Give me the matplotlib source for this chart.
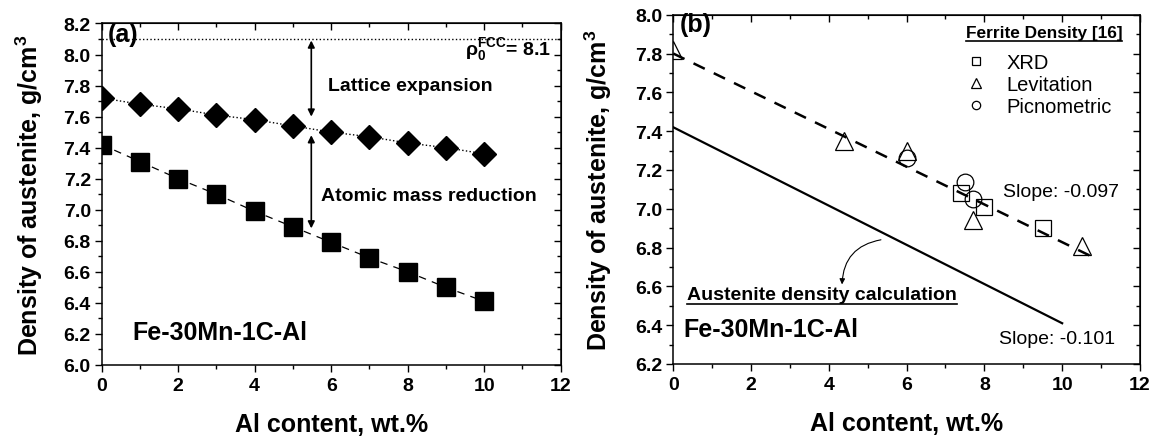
import matplotlib
matplotlib.use('Agg')
import matplotlib.pyplot as plt
from matplotlib.ticker import MultipleLocator
from matplotlib.lines import Line2D

plt.rcParams['font.family'] = ['Liberation Sans', 'DejaVu Sans']
plt.rcParams['font.weight'] = 'bold'
plt.rcParams['axes.labelweight'] = 'bold'
plt.rcParams['mathtext.fontset'] = 'custom'
plt.rcParams['mathtext.rm'] = 'Liberation Sans'
plt.rcParams['mathtext.it'] = 'Liberation Sans:italic'
plt.rcParams['mathtext.bf'] = 'Liberation Sans:bold'

# ---- panel (a) data
al = [0, 1, 2, 3, 4, 5, 6, 7, 8, 9, 10]
rho_lattice = [7.72, 7.68, 7.65, 7.61, 7.58, 7.54, 7.50, 7.47, 7.43, 7.40, 7.36]
rho_mass = [7.42, 7.31, 7.20, 7.10, 6.99, 6.89, 6.79, 6.69, 6.60, 6.50, 6.41]
rho0_fcc = 8.1

# ---- panel (b) data
calc_x = [0, 10]
calc_y = [7.42, 6.41]
fit_x = [0, 10.8]
fit_y = [7.80, 6.75]
xrd_x = [7.4, 8.0, 9.5]
xrd_y = [7.08, 7.01, 6.90]
lev_x = [0, 4.4, 6.0, 7.7, 10.5]
lev_y = [7.82, 7.35, 7.30, 6.94, 6.81]
pic_x = [6.0, 7.5, 7.7]
pic_y = [7.26, 7.14, 7.05]

fig = plt.figure(figsize=(11.58, 4.39), dpi=100)
ax1 = fig.add_axes([0.0878, 0.1663, 0.3964, 0.778])
ax2 = fig.add_axes([0.5814, 0.1686, 0.4030, 0.7956])


def style_axes(ax, ymin, ymax):
    ax.set_xlim(0, 12)
    ax.set_ylim(ymin, ymax)
    ax.xaxis.set_major_locator(MultipleLocator(2))
    ax.xaxis.set_minor_locator(MultipleLocator(1))
    ax.yaxis.set_major_locator(MultipleLocator(0.2))
    ax.yaxis.set_minor_locator(MultipleLocator(0.1))
    ax.tick_params(which='both', direction='out', top=False, right=False,
                   width=1.0, labelsize=14)
    ax.tick_params(axis='y', pad=3.0)
    ax.tick_params(axis='x', pad=4.0)
    ax.tick_params(which='major', length=4.8)
    ax.tick_params(which='minor', length=2.8)
    for s in ax.spines.values():
        s.set_linewidth(1.1)
    top = ax.secondary_xaxis('top')
    top.xaxis.set_major_locator(MultipleLocator(2))
    top.xaxis.set_minor_locator(MultipleLocator(1))
    top.tick_params(which='both', direction='in', labeltop=False, width=1.0)
    top.tick_params(which='major', length=4.8)
    top.tick_params(which='minor', length=2.8)
    right = ax.secondary_yaxis('right')
    right.yaxis.set_major_locator(MultipleLocator(0.2))
    right.yaxis.set_minor_locator(MultipleLocator(0.1))
    right.tick_params(which='both', direction='in', labelright=False, width=1.0)
    right.tick_params(which='major', length=4.8)
    right.tick_params(which='minor', length=2.8)
    ax.set_xlabel('Al content, wt.%', fontsize=18, labelpad=13)
    ax.set_ylabel(r'Density of austenite, g/cm$^\mathbf{3}$', fontsize=18)


# ---------------- panel (a)
style_axes(ax1, 6.0, 8.2)
ax1.axhline(rho0_fcc, color='k', ls=':', lw=1.0)
ax1.plot(al, rho_lattice, color='k', ls=':', lw=1.0,
         marker='D', ms=12, mfc='k', mec='k')
ax1.plot(al, rho_mass, color='k', ls=(0, (6, 5)), lw=0.9,
         marker='s', ms=13, mfc='k', mec='k')
ax1.annotate('', xy=(5.48, 8.09), xytext=(5.48, 7.60),
             arrowprops=dict(arrowstyle='<|-|>', color='k', lw=1.2,
                             mutation_scale=10, shrinkA=0, shrinkB=0))
ax1.annotate('', xy=(5.48, 7.48), xytext=(5.48, 6.88),
             arrowprops=dict(arrowstyle='<|-|>', color='k', lw=1.2,
                             mutation_scale=10, shrinkA=0, shrinkB=0))
ax1.text(0.17, 8.13, '(a)', fontsize=18, va='center')
ax1.text(9.5, 8.04, r'$\mathbf{\rho}_\mathbf{0}^\mathbf{FCC}$= 8.1', fontsize=14,
         va='center')
ax1.text(5.92, 7.80, 'Lattice expansion', fontsize=14, va='center')
ax1.text(5.73, 7.09, 'Atomic mass reduction', fontsize=14, va='center')
ax1.text(0.8, 6.21, 'Fe-30Mn-1C-Al', fontsize=18, va='center')
ax1.yaxis.set_label_coords(-0.124, 0.5)

# ---------------- panel (b)
style_axes(ax2, 6.2, 8.0)
ax2.plot(calc_x, calc_y, color='k', lw=1.6)
ax2.plot(fit_x, fit_y, color='k', lw=1.8, ls=(0, (5, 4)))
h_xrd, = ax2.plot(xrd_x, xrd_y, ls='none', marker='s', ms=11, mfc='none',
                  mec='k', mew=0.9, label='XRD')
h_lev, = ax2.plot(lev_x, lev_y, ls='none', marker='^', ms=13, mfc='none',
                  mec='k', mew=0.9, label='Levitation')
h_pic, = ax2.plot(pic_x, pic_y, ls='none', marker='o', ms=12, mfc='none',
                  mec='k', mew=0.9, label='Picnometric')
leg = ax2.legend(handles=[h_xrd, h_lev, h_pic], loc='upper left',
                 bbox_to_anchor=(0.601, 1.004), frameon=False, markerscale=0.5,
                 title='Ferrite Density [16]', handlelength=1.0,
                 handletextpad=1.0, labelspacing=0.15, borderpad=0.1,
                 prop={'size': 14.5, 'weight': 'normal'},
                 title_fontproperties={'weight': 'bold', 'size': 12.4})
leg._legend_box.align = 'left'
leg._legend_box.sep = 9
ax2.annotate('', xy=(4.34, 6.61), xytext=(5.34, 6.84),
             arrowprops=dict(arrowstyle='-|>', color='k', lw=0.8,
                             mutation_scale=8, shrinkA=0, shrinkB=0,
                             connectionstyle='arc3,rad=0.4'))
ax2.text(0.17, 7.95, '(b)', fontsize=18, va='center')
ax2.text(8.49, 7.09, 'Slope: -0.097', fontsize=14, fontweight='normal', va='center')
ax2.text(8.37, 6.33, 'Slope: -0.101', fontsize=14, fontweight='normal', va='center')
calc_txt = ax2.text(0.36, 6.56, 'Austenite density calculation', fontsize=14,
                    va='center')
ax2.text(0.27, 6.38, 'Fe-30Mn-1C-Al', fontsize=18, va='center')
ax2.yaxis.set_label_coords(-0.127, 0.5)

# underline texts
fig.canvas.draw()
inv = fig.transFigure.inverted()
for t in [calc_txt, leg.get_title()]:
    bb = t.get_window_extent().transformed(inv)
    fig.add_artist(Line2D([bb.x0, bb.x1], [bb.y0 - 0.002, bb.y0 - 0.002],
                          color='k', lw=1.2, transform=fig.transFigure))

fig.savefig('out.png', dpi=100)
